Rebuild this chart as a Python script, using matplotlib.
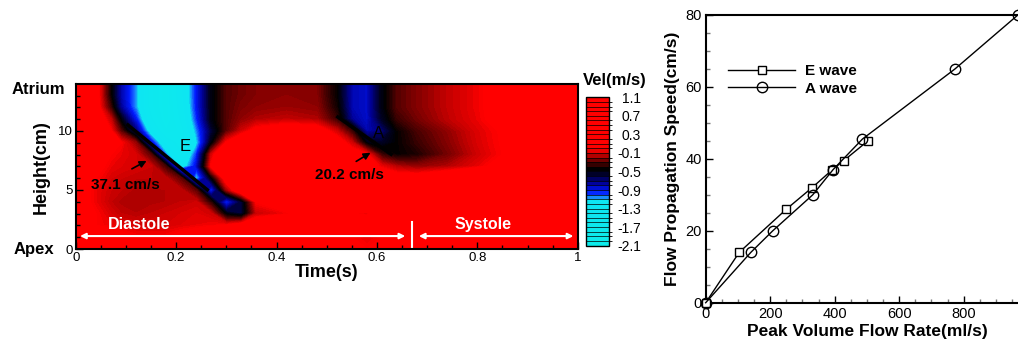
import numpy as np
import matplotlib
matplotlib.use("Agg")
import matplotlib.pyplot as plt
from matplotlib.colors import LinearSegmentedColormap, Normalize, BoundaryNorm
from matplotlib.cm import ScalarMappable
from matplotlib.ticker import MultipleLocator, FuncFormatter

plt.rcParams['font.family'] = ['Liberation Sans', 'DejaVu Sans']
plt.rcParams['axes.unicode_minus'] = False

# --- M-mode velocity map (m/s) ---
time_s = [0.00, 0.04, 0.07, 0.09, 0.12, 0.15, 0.18, 0.21, 0.24, 0.27, 0.30, 0.33, 0.36,
          0.42, 0.48, 0.52, 0.55, 0.58, 0.61, 0.64, 0.68, 0.74, 0.80, 0.90, 1.00]
height_cm = [0, 1, 2, 3, 4, 5, 6, 7, 8, 9, 10, 11, 12, 13, 14]
# one row per height, bottom (apex) to top (atrium)
velocity = [
    [0.3, 0.3, 0.3, 0.3, 0.3, 0.3, 0.3, 0.3, 0.3, 0.3, 0.3, 0.3, 0.3, 0.3, 0.3, 0.3, 0.1, 0.0, 0.3, 0.3, 0.3, 0.3, 0.3, 0.3, 0.3],
    [0.3, 0.2, 0.1, 0.05, 0.0, 0.0, 0.0, 0.05, 0.1, 0.2, 0.3, 0.3, 0.3, 0.3, 0.3, 0.3, 0.0, -0.05, 0.0, 0.3, 0.3, 0.3, 0.3, 0.3, 0.3],
    [0.1, 0.0, -0.04, -0.06, -0.08, -0.08, -0.08, -0.06, -0.04, -0.02, 0.0, 0.1, 0.2, 0.3, 0.3, 0.3, 0.3, 0.3, 0.3, 0.3, 0.3, 0.3, 0.3, 0.3, 0.3],
    [0.15, 0.0, -0.08, -0.12, -0.14, -0.12, -0.1, -0.08, -0.06, -0.1, -0.5, -0.6, -0.12, -0.03, 0.2, 0.3, 0.0, -0.06, 0.3, 0.3, 0.3, 0.3, 0.3, 0.3, 0.3],
    [0.1, -0.04, -0.12, -0.15, -0.16, -0.15, -0.14, -0.12, -0.1, -0.4, -1.0, -0.6, 0.0, 0.15, 0.3, 0.3, 0.3, 0.3, 0.3, 0.3, 0.3, 0.3, 0.3, 0.3, 0.3],
    [0.1, -0.04, -0.1, -0.12, -0.15, -0.15, -0.14, -0.13, -0.3, -1.0, -0.2, 0.2, 0.3, 0.3, 0.3, 0.3, 0.3, 0.3, 0.3, 0.3, 0.3, 0.3, 0.3, 0.3, 0.3],
    [0.1, 0.0, -0.08, -0.1, -0.12, -0.12, -0.13, -0.3, -1.2, -0.5, 0.1, 0.3, 0.3, 0.3, 0.3, 0.3, 0.3, 0.2, 0.2, 0.1, 0.1, 0.2, 0.3, 0.3, 0.3],
    [0.15, 0.05, -0.04, -0.06, -0.08, -0.1, -0.35, -1.3, -0.9, 0.0, 0.3, 0.3, 0.3, 0.3, 0.3, 0.2, 0.2, 0.1, -0.05, -0.15, -0.2, -0.15, -0.05, 0.2, 0.3],
    [0.2, 0.1, 0.0, -0.04, -0.08, -0.3, -1.1, -1.5, -1.0, -0.1, 0.3, 0.3, 0.3, 0.3, 0.3, 0.0, 0.1, 0.0, -0.35, -0.45, -0.4, -0.25, -0.1, 0.1, 0.3],
    [0.3, 0.2, 0.1, 0.0, -0.2, -0.9, -1.4, -1.6, -1.2, -0.5, 0.0, 0.2, 0.3, 0.3, 0.3, 0.1, -0.1, -0.5, -0.55, -0.45, -0.35, -0.22, -0.08, 0.1, 0.3],
    [0.3, 0.2, 0.0, -0.3, -0.7, -1.3, -1.7, -1.6, -1.1, -0.6, -0.3, -0.1, 0.05, 0.15, 0.1, -0.1, -0.35, -0.8, -0.7, -0.45, -0.32, -0.2, -0.07, 0.1, 0.3],
    [0.3, 0.15, -0.12, -0.5, -0.95, -1.5, -1.8, -1.5, -1.0, -0.5, -0.3, -0.2, -0.15, -0.12, -0.15, -0.35, -0.75, -0.85, -0.55, -0.35, -0.25, -0.13, -0.04, 0.2, 0.3],
    [0.3, 0.1, -0.35, -0.75, -1.1, -1.6, -1.8, -1.45, -0.95, -0.5, -0.3, -0.23, -0.2, -0.18, -0.2, -0.42, -0.8, -0.85, -0.5, -0.3, -0.22, -0.12, -0.03, 0.2, 0.3],
    [0.3, 0.1, -0.45, -0.8, -1.1, -1.6, -1.8, -1.4, -0.95, -0.5, -0.3, -0.25, -0.22, -0.2, -0.22, -0.45, -0.8, -0.85, -0.5, -0.3, -0.22, -0.12, -0.03, 0.2, 0.3],
    [0.3, 0.1, -0.45, -0.8, -1.1, -1.6, -1.8, -1.4, -0.95, -0.5, -0.3, -0.25, -0.22, -0.2, -0.22, -0.45, -0.8, -0.85, -0.5, -0.3, -0.22, -0.12, -0.03, 0.2, 0.3],
]
cbar_ticks = [1.1, 0.7, 0.3, -0.1, -0.5, -0.9, -1.3, -1.7, -2.1]

# --- propagation speed vs peak volume flow rate ---
e_rate = [0, 104, 250, 330, 393, 428, 503]
e_speed = [0, 14, 26, 32, 37, 39.5, 45]
a_rate = [0, 140, 208, 332, 395, 486, 773, 968]
a_speed = [0, 14, 20, 30, 37, 45.5, 65, 80]

vmin, vmax = -2.1, 1.1
nodes = [(-2.1, (0.05, 0.92, 0.92)), (-1.15, (0.05, 0.9, 0.95)), (-1.05, (0.1, 0.45, 1.0)),
         (-0.95, (0.0, 0.1, 1.0)), (-0.75, (0.0, 0.0, 0.6)), (-0.55, (0.0, 0.0, 0.15)),
         (-0.45, (0.0, 0.0, 0.0)), (-0.35, (0.2, 0.0, 0.0)), (-0.2, (0.55, 0.0, 0.0)),
         (-0.1, (0.8, 0.0, 0.0)), (0.0, (1.0, 0.0, 0.0)), (1.1, (1.0, 0.0, 0.0))]
cmap = LinearSegmentedColormap.from_list(
    "mmode", [((v - vmin) / (vmax - vmin), c) for v, c in nodes], N=512)

fig = plt.figure(figsize=(10.18, 3.44), dpi=100)

# ---------------- left: M-mode map ----------------
ax1 = fig.add_axes([0.0744, 0.276, 0.4931, 0.479])
cs = ax1.contourf(time_s, height_cm, np.array(velocity), levels=np.linspace(vmin, vmax, 161),
                  cmap=cmap, norm=Normalize(vmin, vmax), extend='both')
cs.set_edgecolor('face')
cs.set_linewidth(0.4)
ax1.set_xlim(0, 1)
ax1.set_ylim(0, 13.95)
ax1.xaxis.set_major_locator(MultipleLocator(0.2))
ax1.xaxis.set_minor_locator(MultipleLocator(0.05))
ax1.xaxis.set_major_formatter(FuncFormatter(lambda v, p: f"{v:g}"))
ax1.set_yticks([0, 5, 10])
ax1.yaxis.set_minor_locator(MultipleLocator(1))
ax1.tick_params(which='both', direction='in', labelsize=9.5, width=1, colors='k')
ax1.tick_params(which='major', length=5, pad=2)
ax1.tick_params(which='minor', length=3)
for s in ax1.spines.values():
    s.set_linewidth(1.5)
ax1.set_xlabel("Time(s)", fontsize=13, fontweight='bold', labelpad=0)
ax1.set_ylabel("Height(cm)", fontsize=13, fontweight='bold', labelpad=6)
ax1.text(-0.0217, 0.97, "Atrium", transform=ax1.transAxes, ha='right', va='center',
         fontsize=12, fontweight='bold')
ax1.text(-0.042, -0.005, "Apex", transform=ax1.transAxes, ha='right', va='center',
         fontsize=12, fontweight='bold')

# propagation slopes
ax1.plot([0.104, 0.262], [10.5, 5.02], color='k', lw=2.5)
ax1.plot([0.522, 0.628], [11.18, 8.03], color='k', lw=2.5)
ax1.text(0.219, 8.65, "E", fontsize=12, ha='center', va='center')
ax1.text(0.604, 9.77, "A", fontsize=12, ha='center', va='center')
arrow = dict(arrowstyle='-|>', color='k', lw=1.2, mutation_scale=10)
ax1.annotate("", xy=(0.146, 7.58), xytext=(0.107, 6.68), arrowprops=arrow)
ax1.annotate("", xy=(0.592, 8.28), xytext=(0.554, 7.3), arrowprops=arrow)
ax1.text(0.099, 5.45, "37.1 cm/s", fontsize=11, fontweight='bold', ha='center', va='center')
ax1.text(0.546, 6.3, "20.2 cm/s", fontsize=11, fontweight='bold', ha='center', va='center')

# diastole / systole
white = dict(arrowstyle='<|-|>', color='white', lw=1.5, mutation_scale=8)
ax1.annotate("", xy=(0.003, 1.1), xytext=(0.662, 1.1), arrowprops=white)
ax1.annotate("", xy=(0.678, 1.1), xytext=(0.997, 1.1), arrowprops=white)
ax1.plot([0.67, 0.67], [0, 2.25], color='white', lw=1.5)
ax1.text(0.127, 2.05, "Diastole", color='white', fontsize=11.5, fontweight='bold',
         ha='center', va='center')
ax1.text(0.811, 2.1, "Systole", color='white', fontsize=11.5, fontweight='bold',
         ha='center', va='center')

# colorbar
cax = fig.add_axes([0.5756, 0.2858, 0.0229, 0.4314])
bounds = np.linspace(vmin, vmax, 33)
sm = ScalarMappable(norm=BoundaryNorm(bounds, cmap.N), cmap=cmap)
cb = fig.colorbar(sm, cax=cax, drawedges=True, ticks=cbar_ticks)
cb.dividers.set_color('k')
cb.dividers.set_linewidth(0.5)
cb.outline.set_linewidth(1)
cb.ax.set_yticklabels([f"{t:g}" for t in cbar_ticks])
cax.tick_params(length=0, labelsize=10, pad=23)
for lbl in cax.get_yticklabels():
    lbl.set_ha('right')
fig.text(615 / 1018, 1 - 80 / 344, "Vel(m/s)", fontsize=12, fontweight='bold',
         ha='center', va='center')

# ---------------- right: speed vs flow rate ----------------
ax2 = fig.add_axes([0.6932, 0.12, 0.3168, 0.8364])
ax2.plot(e_rate, e_speed, color='k', lw=1.0, marker='s', ms=5.5, mfc='white',
         mec='k', mew=1.0, label='E wave', clip_on=False, zorder=3)
ax2.plot(a_rate, a_speed, color='k', lw=1.0, marker='o', ms=7.5, mfc='none',
         mec='k', mew=1.0, label='A wave', clip_on=False, zorder=3)
ax2.set_xlim(0, 1000)
ax2.set_ylim(0, 80)
ax2.xaxis.set_major_locator(MultipleLocator(200))
ax2.xaxis.set_minor_locator(MultipleLocator(50))
ax2.xaxis.set_major_formatter(FuncFormatter(lambda v, p: "" if v >= 1000 else f"{v:g}"))
ax2.yaxis.set_major_locator(MultipleLocator(20))
ax2.yaxis.set_minor_locator(MultipleLocator(5))
ax2.tick_params(which='both', direction='in', labelsize=10.5, width=1)
ax2.tick_params(which='major', length=5, pad=3)
ax2.tick_params(which='minor', length=3, color='#777777')
for s in ax2.spines.values():
    s.set_linewidth(1.5)
ax2.set_xlabel("Peak Volume Flow Rate(ml/s)", fontsize=12.5, fontweight='bold', labelpad=2)
ax2.set_ylabel("Flow Propagation Speed(cm/s)", fontsize=12.5, fontweight='bold', labelpad=4)
ax2.legend(loc='upper left', bbox_to_anchor=(0.07, 0.83), frameon=False, borderpad=0,
           borderaxespad=0, handlelength=4.4, handletextpad=0.65, labelspacing=0.25,
           prop={'size': 11, 'weight': 'bold'})

fig.savefig("out.png", dpi=100)
